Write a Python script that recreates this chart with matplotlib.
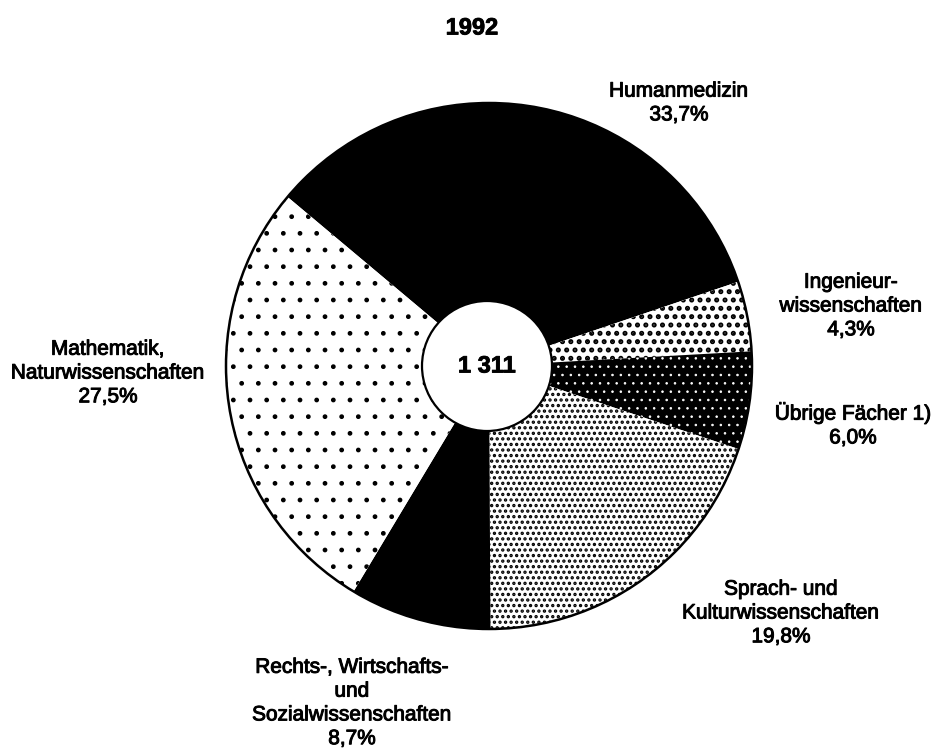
import numpy as np
import matplotlib.pyplot as plt
import matplotlib.patheffects as pe
from matplotlib.patches import Circle

plt.rcParams['font.family'] = ['Liberation Sans', 'DejaVu Sans']

W, H = 935, 751

# data (share in %)
categories = ['Humanmedizin', 'Ingenieur-\nwissenschaften', 'Übrige Fächer 1)',
              'Sprach- und\nKulturwissenschaften',
              'Rechts-, Wirtschafts-\nund\nSozialwissenschaften',
              'Mathematik,\nNaturwissenschaften']
shares = [33.7, 4.3, 6.0, 19.8, 8.7, 27.5]
total = '1 311'
title = '1992'

# styling per slice: face, hatch colour, hatch
faces = ['black', 'white', 'black', 'white', 'black', 'white']
hatch_cols = ['black', 'black', 'white', 'black', 'black', 'black']
hatches = [None, '..', '..', '...', None, '.']
hatch_lw = [0, 2.4, 0.6, 1.6, 0, 1.0]

# label positions in image pixels (x, y from top)
label_pos = [(679, 103), (851, 306), (853, 425), (781, 613), (352, 703), (108, 373)]

cx, cy, r = 489, 366, 263

fig = plt.figure(figsize=(W / 100, H / 100), dpi=100)
ax = fig.add_axes([0, 0, 1, 1])

wedges, _ = ax.pie(shares, startangle=140, counterclock=False, radius=r,
                   center=(cx, H - cy), colors=faces,
                   wedgeprops=dict(linewidth=0))
for w, hc, h, lw in zip(wedges, hatch_cols, hatches, hatch_lw):
    w.set_edgecolor(hc)
    w.set_linewidth(0)
    if h:
        w.set_hatch(h)
        if hasattr(w, 'set_hatch_linewidth'):
            w.set_hatch_linewidth(lw)

ax.add_patch(Circle((cx, H - cy), r, fill=False, edgecolor='black', lw=1.8, zorder=3))
ax.add_patch(Circle((cx - 2, H - cy), 65, facecolor='white', edgecolor='black', lw=1.6, zorder=4))

thick = [pe.withStroke(linewidth=0.7, foreground='black')]
heavy = [pe.withStroke(linewidth=0.6, foreground='black')]

ax.text(cx - 2, H - cy, total, ha='center', va='center', fontsize=17,
        fontweight='bold', zorder=5, path_effects=heavy)

for lab, s, (x, y) in zip(categories, shares, label_pos):
    txt = lab + '\n' + f'{s:.1f}'.replace('.', ',') + '%'
    ax.text(x, H - y, txt, ha='center', va='center', fontsize=15,
            linespacing=1.32, multialignment='center', path_effects=thick)

ax.text(472, H - 28, title, ha='center', va='center', fontsize=17,
        fontweight='bold', path_effects=heavy)

ax.set_xlim(0, W)
ax.set_ylim(0, H)
ax.set_aspect('equal')
ax.axis('off')

fig.savefig('out.png', dpi=100)
